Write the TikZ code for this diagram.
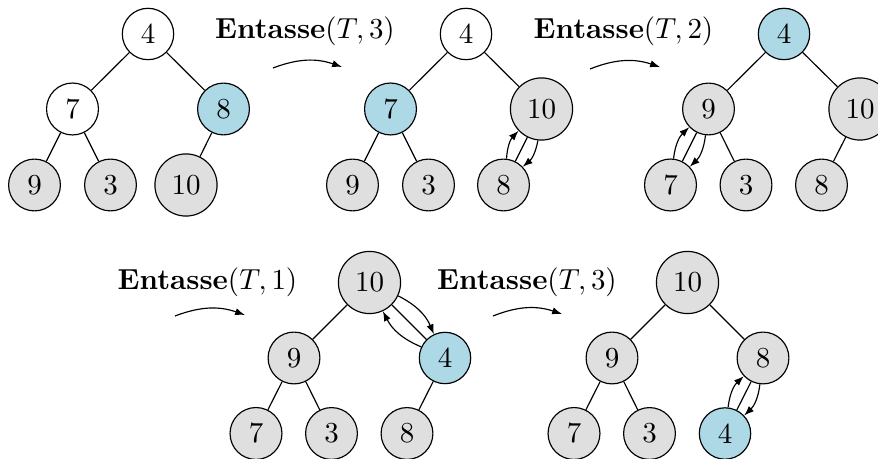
\documentclass[tikz,border=0pt]{standalone}
\usetikzlibrary{arrows.meta}
\definecolor{hlblue}{RGB}{173,216,230}
\tikzset{
  nd/.style={circle, draw, thin},
  done/.style={nd, fill=gray!25},
  cur/.style={nd, fill=hlblue},
  tip/.style={-{Latex[length=3.4pt,width=2.5pt]}},
  swaparrow/.style={tip, thin, bend left=20},
  steparrow/.style={tip, thin, bend left=20},
}
\begin{document}
\begin{tikzpicture}[x=0.345pt, y=-0.345pt]
\useasboundingbox (0,0) rectangle (878,459);
% Tree 1
\begin{scope}[shift={(148,34)}]
\node[nd]   (a1) at (0,0) {4};
\node[nd]   (a2) at (-75.5,75) {7};
\node[cur]  (a3) at (75.5,75) {8};
\node[done] (a4) at (-113.5,151) {9};
\node[done] (a5) at (-37.5,151) {3};
\node[done] (a6) at (38,151) {10};
\end{scope}
\draw (a1)--(a2) (a1)--(a3) (a2)--(a4) (a2)--(a5) (a3)--(a6);
% Tree 2
\begin{scope}[shift={(466,34)}]
\node[nd]   (b1) at (0,0) {4};
\node[cur]  (b2) at (-75.5,75) {7};
\node[done] (b3) at (75.5,75) {10};
\node[done] (b4) at (-113.5,151) {9};
\node[done] (b5) at (-37.5,151) {3};
\node[done] (b6) at (37.5,151) {8};
\end{scope}
\draw (b1)--(b2) (b1)--(b3) (b2)--(b4) (b2)--(b5) (b3)--(b6);
\draw[swaparrow] (b6) to (b3);
\draw[swaparrow] (b3) to (b6);
% Tree 3
\begin{scope}[shift={(784,34)}]
\node[cur]  (c1) at (0,0) {4};
\node[done] (c2) at (-75.5,75) {9};
\node[done] (c3) at (76,75) {10};
\node[done] (c4) at (-113.5,151) {7};
\node[done] (c5) at (-38,151) {3};
\node[done] (c6) at (37.5,151) {8};
\end{scope}
\draw (c1)--(c2) (c1)--(c3) (c2)--(c4) (c2)--(c5) (c3)--(c6);
\draw[swaparrow] (c4) to (c2);
\draw[swaparrow] (c2) to (c4);
% Tree 4
\begin{scope}[shift={(369.5,282.5)}]
\node[done] (d1) at (0,0) {10};
\node[done] (d2) at (-75.5,75.5) {9};
\node[cur]  (d3) at (75.5,75.5) {4};
\node[done] (d4) at (-113.5,151) {7};
\node[done] (d5) at (-38,151) {3};
\node[done] (d6) at (37.5,151) {8};
\end{scope}
\draw (d1)--(d2) (d1)--(d3) (d2)--(d4) (d2)--(d5) (d3)--(d6);
\draw[swaparrow] (d3) to (d1);
\draw[swaparrow] (d1) to (d3);
% Tree 5
\begin{scope}[shift={(687.5,282.5)}]
\node[done] (e1) at (0,0) {10};
\node[done] (e2) at (-75.5,75.5) {9};
\node[done] (e3) at (75.5,75.5) {8};
\node[done] (e4) at (-113.5,151) {7};
\node[done] (e5) at (-38,151) {3};
\node[cur]  (e6) at (37.5,151) {4};
\end{scope}
\draw (e1)--(e2) (e1)--(e3) (e2)--(e4) (e2)--(e5) (e3)--(e6);
\draw[swaparrow] (e6) to (e3);
\draw[swaparrow] (e3) to (e6);
% Step labels and arrows
\node (l1) at (305,31) {\textbf{Entasse}$(T,3)$};
\node (l2) at (623.5,31) {\textbf{Entasse}$(T,2)$};
\node (l3) at (207.5,282) {\textbf{Entasse}$(T,1)$};
\node (l4) at (527,282) {\textbf{Entasse}$(T,3)$};
\coordinate (s1) at (273,68);
\coordinate (t1) at (342,67);
\coordinate (s2) at (590,69);
\coordinate (t2) at (660,67);
\coordinate (s3) at (175,316);
\coordinate (t3) at (245,315);
\coordinate (s4) at (493,316);
\coordinate (t4) at (562,314);
\draw[steparrow] (s1) to (t1);
\draw[steparrow] (s2) to (t2);
\draw[steparrow] (s3) to (t3);
\draw[steparrow] (s4) to (t4);
\end{tikzpicture}
\end{document}
